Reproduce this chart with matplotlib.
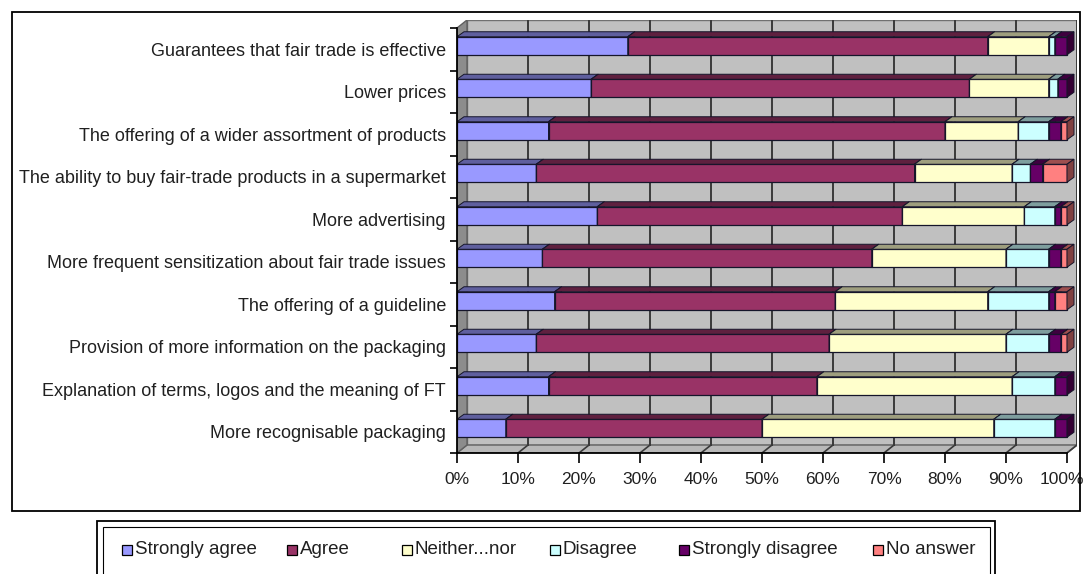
import matplotlib
matplotlib.use('Agg')
import matplotlib.pyplot as plt
from matplotlib.patches import Rectangle, Polygon
from matplotlib import font_manager
from matplotlib.colors import to_rgb
from matplotlib.transforms import ScaledTranslation

# survey items, top to bottom as in the chart
labels = [
    "Guarantees that fair trade is effective",
    "Lower prices",
    "The offering of a wider assortment of products",
    "The ability to buy fair-trade products in a supermarket",
    "More advertising",
    "More frequent sensitization about fair trade issues",
    "The offering of a guideline",
    "Provision of more information on the packaging",
    "Explanation of terms, logos and the meaning of FT",
    "More recognisable packaging",
]

# shares in percent, same order as labels
strongly_agree = [28, 22, 15, 13, 23, 14, 16, 13, 15, 8]
agree = [59, 62, 65, 62, 50, 54, 46, 48, 44, 42]
neither = [10, 13, 12, 16, 20, 22, 25, 29, 32, 38]
disagree = [1, 1.5, 5, 3, 5, 7, 10, 7, 7, 10]
strongly_disagree = [2, 1.5, 2, 2, 1, 2, 1, 2, 2, 2]
no_answer = [0, 0, 1, 4, 1, 1, 2, 1, 0, 0]

series_names = ["Strongly agree", "Agree", "Neither...nor", "Disagree",
                "Strongly disagree", "No answer"]
series_colors = ["#9999FF", "#993366", "#FFFFCC", "#CCFFFF", "#660066", "#FF8080"]
ticks = list(range(0, 101, 10))

W, H = 1085, 574


def pick_font():
    for name in ['Liberation Sans', 'Arial', 'DejaVu Sans']:
        try:
            font_manager.findfont(name, fallback_to_default=False)
            return name
        except ValueError:
            pass
    return 'DejaVu Sans'


def shade(color, k):
    r, g, b = to_rgb(color)
    return (r * k, g * k, b * k)


FONT = pick_font()
plt.rcParams['font.family'] = [FONT, 'DejaVu Sans']

fig = plt.figure(figsize=(W / 100, H / 100), dpi=100)
fig.patch.set_facecolor('white')

# plot area in pixels: front 0% at 457, 100% at 1067, wall depth 10 px
left_px, right_px, top_px, bottom_px = 457, 1077, 20, 453
ax = fig.add_axes([left_px / W, 1 - bottom_px / H,
                   (right_px - left_px) / W, (bottom_px - top_px) / H])
ppu_x = 610 / 100
dx = 10 / ppu_x
n = len(labels)
ppu_y = (bottom_px - top_px - 8) / n
dy = 8 / ppu_y
ax.set_xlim(0, 100 + dx)
ax.set_ylim(-0.5, n - 0.5 + dy)
ax.set_facecolor('none')

# walls and floor
ax.add_patch(Rectangle((dx, -0.5 + dy), 100, n, fc='#C0C0C0', ec='#707070', lw=1, zorder=0))
ax.add_patch(Polygon([(0, -0.5), (100, -0.5), (100 + dx, -0.5 + dy), (dx, -0.5 + dy)],
                     closed=True, fc='#B8B8B8', ec='#606060', lw=1, zorder=0))
ax.add_patch(Polygon([(0, -0.5), (dx, -0.5 + dy), (dx, n - 0.5 + dy), (0, n - 0.5)],
                     closed=True, fc='#8C8C8C', ec='#606060', lw=1, zorder=0))
for v in ticks[1:]:
    ax.plot([v + dx, v + dx], [-0.5 + dy, n - 0.5 + dy], color='#3A3A3A', lw=1.4, zorder=1)
    ax.plot([v, v + dx], [-0.5, -0.5 + dy], color='#3A3A3A', lw=1.2, zorder=1)

# 3d-looking stacked bars
series = [strongly_agree, agree, neither, disagree, strongly_disagree, no_answer]
h = 18 / ppu_y
dxb = 7 / ppu_x
dyb = 5 / ppu_y
for i in range(n):
    yc = (n - 1 - i) + 3.5 / ppu_y
    y0, y1 = yc - h / 2, yc + h / 2
    left = 0
    for vals, col in zip(series, series_colors):
        w = vals[i]
        if w <= 0:
            continue
        r = left + w
        ax.add_patch(Rectangle((left, y0), w, h, fc=col, ec='#15152A', lw=0.9, zorder=3))
        ax.add_patch(Polygon([(left, y1), (r, y1), (r + dxb, y1 + dyb), (left + dxb, y1 + dyb)],
                             closed=True, fc=shade(col, 0.62), ec='#15152A', lw=0.7, zorder=3))
        ax.add_patch(Polygon([(r, y0), (r, y1), (r + dxb, y1 + dyb), (r + dxb, y0 + dyb)],
                             closed=True, fc=shade(col, 0.5), ec='#15152A', lw=0.7, zorder=3))
        left = r

# axes
for s in ['top', 'right']:
    ax.spines[s].set_visible(False)
ax.spines['bottom'].set_bounds(0, 100)
ax.spines['left'].set_bounds(-0.5, n - 0.5)
for s in ['bottom', 'left']:
    ax.spines[s].set_linewidth(1.3)
    ax.spines[s].set_zorder(4)

ax.set_xticks(ticks)
ax.set_xticklabels([f"{t}%" for t in ticks])
ax.tick_params(axis='x', length=7, width=1.2, pad=7, labelsize=12.5, labelcolor='#202020')
# keep "100%" inside the picture
last = ax.get_xticklabels()[-1]
last.set_transform(last.get_transform() + ScaledTranslation(-5 / 100, 0, fig.dpi_scale_trans))

ax.set_yticks(range(n))
ax.set_yticklabels(labels[::-1])
ax.tick_params(axis='y', length=0, pad=8, labelsize=13, labelcolor='#202020')
ax.set_yticks([k - 0.5 for k in range(n + 1)], minor=True)
ax.tick_params(axis='y', which='minor', length=5, width=1.2)
ax.tick_params(axis='x', which='minor', length=0)

# chart border
fig.add_artist(Rectangle((12 / W, 1 - 511 / H), (1080 - 12) / W, (511 - 12) / H,
                         transform=fig.transFigure, fill=False, ec='black', lw=1.3))

# legend box (runs off the bottom edge)
fig.add_artist(Rectangle((97 / W, 1 - 600 / H), (995 - 97) / W, (600 - 521) / H,
                         transform=fig.transFigure, fill=False, ec='black', lw=1.3))
fig.add_artist(Rectangle((103 / W, 1 - 600 / H), (990 - 103) / W, (600 - 527) / H,
                         transform=fig.transFigure, fill=False, ec='black', lw=0.8))

legend_x = [127, 292, 407, 555, 684, 878]
ly = 550
sq = 10
for x, name, col in zip(legend_x, series_names, series_colors):
    fig.add_artist(Rectangle(((x - sq / 2) / W, 1 - (ly + sq / 2) / H), sq / W, sq / H,
                             transform=fig.transFigure, fc=col, ec='black', lw=0.9))
    fig.text((x + sq / 2 + 3) / W, 1 - ly / H, name, ha='left', va='center',
             fontsize=13.5, color='#202020')

fig.savefig('out.png', dpi=100)
